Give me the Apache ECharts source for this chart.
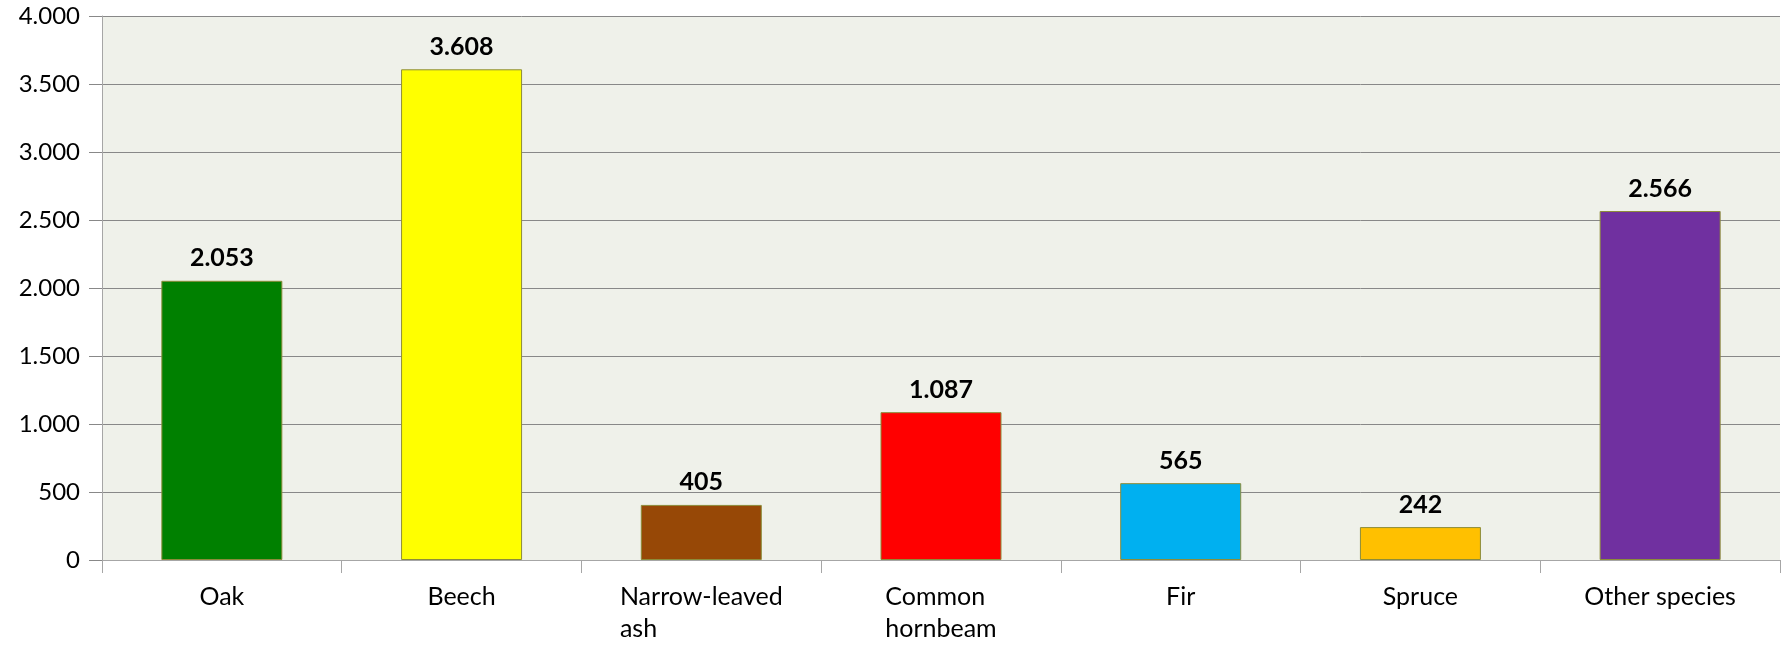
<!DOCTYPE html>
<html><head><meta charset="utf-8">
<script src="https://cdn.jsdelivr.net/npm/echarts@6/dist/echarts.min.js"></script>
<style>html,body{margin:0;padding:0;background:#fff}#c{width:1785px;height:646px}</style>
</head><body><div id="c"></div>
<script>
const categories = ['Oak', 'Beech', 'Narrow-leaved\nash', 'Common\nhornbeam', 'Fir', 'Spruce', 'Other species'];
const values = [2053, 3608, 405, 1087, 565, 242, 2566];
const barColors = ['#008000', '#ffff00', '#974806', '#ff0000', '#00b0f0', '#ffc000', '#7030a0'];
const yTicks = [0, 500, 1000, 1500, 2000, 2500, 3000, 3500, 4000];

function fmt(v) { return String(v).replace(/\B(?=(\d{3})+(?!\d))/g, '.'); }

const chart = echarts.init(document.getElementById('c'), null, {renderer: 'canvas'});
chart.setOption({
  animation: false,
  backgroundColor: '#ffffff',
  grid: {left: 102, right: 5, top: 16, bottom: 86, show: true, backgroundColor: '#eff1ea', borderWidth: 0},
  xAxis: {
    type: 'category', data: categories,
    axisLine: {show: true, lineStyle: {color: '#a6a6a6', width: 1}},
    axisTick: {show: true, interval: 0, alignWithLabel: false, length: 13, lineStyle: {color: '#a6a6a6'}},
    axisLabel: {
      interval: 0, hideOverlap: false,
      margin: 21, color: '#000', fontFamily: 'Lato', fontSize: 25, lineHeight: 32,
      formatter: function (v) { return v.split('\n').map(s => '{l|' + s + '}').join('\n'); },
      rich: {l: {align: 'left', fontFamily: 'Lato', fontSize: 25, lineHeight: 32, color: '#000'}}
    }
  },
  yAxis: {
    type: 'value', min: yTicks[0], max: yTicks[yTicks.length - 1], interval: 500,
    axisLine: {show: true, lineStyle: {color: '#a6a6a6', width: 1}},
    axisTick: {show: true, length: 13, lineStyle: {color: '#888'}},
    splitLine: {show: true, lineStyle: {color: '#888', width: 1}},
    axisLabel: {margin: 22, color: '#000', fontFamily: 'Lato', fontSize: 24, formatter: fmt}
  },
  series: [{
    type: 'bar', barWidth: 121,
    data: values.map((v, i) => ({value: v, itemStyle: {color: barColors[i]}})),
    itemStyle: {borderColor: '#8c8c3a', borderWidth: 1},
    label: {show: true, position: 'top', distance: 10, color: '#000', fontFamily: 'Lato', fontWeight: 'bold', fontSize: 25,
      formatter: p => fmt(p.value)}
  }]
});
</script></body></html>
